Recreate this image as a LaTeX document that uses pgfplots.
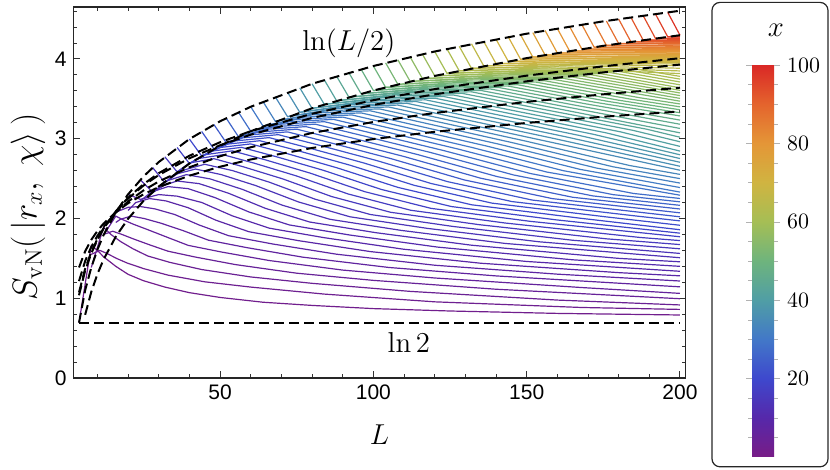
\documentclass[border=0pt]{standalone}
\usepackage[no-math]{fontspec}
\usepackage{pgfplots}
\pgfplotsset{compat=1.18}
\newfontfamily\ticksans{Liberation Sans}

\pgfplotsset{
  colormap={mmrainbow}{rgb255=(120,28,134) rgb255=(86,40,170) rgb255=(62,72,205)
    rgb255=(66,120,200) rgb255=(80,158,165) rgb255=(110,180,125) rgb255=(165,190,85)
    rgb255=(208,180,65) rgb255=(228,150,55) rgb255=(228,100,45) rgb255=(218,40,38)},
  cv/.style={color of colormap={#1 of mmrainbow}, line width=0.6pt},
  dsh/.style={black, line width=1pt, dash pattern=on 5pt off 2.5pt},
}

\begin{document}
\begin{tikzpicture}
\path (0,0) rectangle (415pt,235pt);
\begin{axis}[
  at={(36.75pt,46pt)}, anchor=south west,
  scale only axis, width=306pt, height=185.5pt,
  xmin=2.2, xmax=201.8, ymin=0, ymax=4.652,
  xtick={50,100,150,200},
  minor xtick={10,20,30,40,60,70,80,90,110,120,130,140,160,170,180,190},
  ytick={0,1,2,3,4},
  minor ytick={0.2,0.4,0.6,0.8,1.2,1.4,1.6,1.8,2.2,2.4,2.6,2.8,3.2,3.4,3.6,3.8,4.2,4.4,4.6},
  tick align=inside, major tick length=3.5pt, minor tick length=2pt,
  tick style={black!80, line width=0.5pt},
  axis line style={black!85, line width=0.7pt},
  ticklabel style={font=\ticksans\fontsize{10.5}{12}\selectfont},
  /pgf/number format/assume math mode=true,
  xlabel={$L$}, ylabel={$S_{\mathrm{vN}}\bigl(\,|r_x,\;\chi\rangle\,\bigr)$},
  label style={font=\fontsize{15}{17}\selectfont},
  xlabel style={at={(axis description cs:0.5,0)}, anchor=center, yshift=-28.5pt},
  ylabel style={at={(axis description cs:0,0.461)}, anchor=center, yshift=22.75pt,
    font=\fontsize{17}{19}\selectfont},
  point meta min=0, point meta max=100,
  colormap name=mmrainbow,
  colorbar,
  colorbar style={
    at={(parent axis.north east)}, anchor=north west,
    xshift=24.75pt, yshift=-29pt,
    width=11pt, height=196pt,
    ytick={20,40,60,80,100},
    minor ytick={5,10,15,25,30,35,45,50,55,65,70,75,85,90,95},
    tick align=outside, major tick length=3pt, minor tick length=1.8pt,
    tick style={black!30},
    axis line style={draw=none},
    yticklabel style={font=\ticksans\fontsize{10.5}{12}\selectfont},
  },
]
% curves, x = 2 ... 98 (colour value = 10x)
\addplot[cv=20] coordinates {(4,0.693) (8,1.66) (10,1.60) (12,1.52) (16,1.40) (20,1.30) (25,1.22) (32,1.14) (40,1.07) (50,1.01) (64,0.95) (80,0.91) (100,0.87) (125,0.84) (160,0.81) (200,0.79)};
\addplot[cv=30] coordinates {(8,1.55) (10.8,1.60) (13.2,1.56) (16.2,1.50) (19.8,1.44) (25.2,1.37) (33,1.29) (45,1.206) (60,1.140) (84,1.052) (120,0.955) (168,0.884) (200,0.860)};
\addplot[cv=40] coordinates {(8,1.386) (12,1.89) (14.4,1.80) (17.6,1.71) (21.6,1.62) (26.4,1.53) (33.6,1.45) (44,1.360) (60,1.267) (80,1.187) (112,1.086) (160,0.977) (200,0.916)};
\addplot[cv=50] coordinates {(12,1.80) (15,1.84) (18,1.80) (22,1.74) (27,1.67) (33,1.59) (42,1.516) (55,1.422) (75,1.314) (100,1.224) (140,1.113) (200,0.994)};
\addplot[cv=60] coordinates {(12,1.792) (16,2.03) (18,1.99) (21.6,1.93) (26.4,1.86) (32.4,1.77) (39.6,1.663) (50.4,1.580) (66,1.473) (90,1.353) (120,1.254) (168,1.134) (200,1.061)};
\addplot[cv=70] coordinates {(16,1.95) (17.5,1.99) (21,2.03) (25.2,2.00) (30.8,1.94) (37.8,1.85) (46.2,1.728) (58.8,1.634) (77,1.515) (105,1.386) (140,1.280) (200,1.143)};
\addplot[cv=80] coordinates {(16,2.079) (20,2.14) (24,2.15) (28.8,2.12) (35.2,2.05) (43.2,1.918) (52.8,1.784) (67.2,1.680) (88,1.552) (120,1.414) (160,1.302) (200,1.216)};
\addplot[cv=90] coordinates {(20,2.10) (22.5,2.20) (27,2.25) (32.4,2.22) (39.6,2.135) (48.6,1.979) (59.4,1.834) (75.6,1.722) (99,1.585) (135,1.439) (180,1.321) (200,1.281)};
\addplot[cv=100] coordinates {(20,2.303) (24,2.24) (30,2.30) (36,2.28) (44,2.201) (54,2.033) (66,1.879) (84,1.759) (110,1.614) (150,1.461) (200,1.338)};
\addplot[cv=110] coordinates {(24,2.22) (27.5,2.33) (33,2.40) (39.6,2.374) (48.4,2.261) (59.4,2.082) (72.6,1.919) (92.4,1.792) (121,1.641) (165,1.482) (200,1.400)};
\addplot[cv=120] coordinates {(24,2.485) (28,2.33) (32,2.42) (36,2.47) (43.2,2.437) (52.8,2.316) (64.8,2.127) (79.2,1.956) (100.8,1.822) (132,1.665) (180,1.500) (200,1.457)};
\addplot[cv=130] coordinates {(28,2.32) (32.5,2.47) (39,2.55) (46.8,2.496) (57.2,2.366) (70.2,2.168) (85.8,1.990) (109.2,1.850) (143,1.687) (200,1.508)};
\addplot[cv=140] coordinates {(28,2.639) (32,2.45) (35,2.55) (42,2.62) (50.4,2.55) (61.6,2.413) (75.6,2.207) (92.4,2.021) (117.6,1.876) (154,1.708) (200,1.562)};
\addplot[cv=150] coordinates {(32,2.45) (37.5,2.60) (45,2.68) (54,2.601) (66,2.456) (81,2.242) (99,2.050) (126,1.900) (165,1.727) (200,1.620)};
\addplot[cv=160] coordinates {(32,2.773) (36,2.584) (40,2.696) (48,2.750) (57.6,2.648) (70.4,2.497) (86.4,2.275) (105.6,2.078) (134.4,1.923) (176,1.745) (200,1.673)};
\addplot[cv=170] coordinates {(36,2.584) (42.5,2.749) (51,2.800) (61.2,2.693) (74.8,2.535) (91.8,2.307) (112.2,2.103) (142.8,1.944) (187,1.762) (200,1.723)};
\addplot[cv=180] coordinates {(36,2.890) (40,2.689) (45,2.799) (54,2.848) (64.8,2.735) (79.2,2.571) (97.2,2.336) (118.8,2.127) (151.2,1.964) (200,1.771)};
\addplot[cv=190] coordinates {(40,2.689) (47.5,2.846) (57,2.892) (68.4,2.774) (83.6,2.605) (102.6,2.364) (125.4,2.150) (159.6,1.983) (200,1.816)};
\addplot[cv=200] coordinates {(40,2.996) (44,2.784) (50,2.890) (60,2.935) (72,2.812) (88,2.637) (108,2.390) (132,2.172) (168,2.001) (200,1.859)};
\addplot[cv=210] coordinates {(44,2.784) (52.5,2.933) (63,2.975) (75.6,2.848) (92.4,2.668) (113.4,2.415) (138.6,2.193) (176.4,2.018) (200,1.915)};
\addplot[cv=220] coordinates {(44,3.091) (48,2.871) (55,2.973) (66,3.014) (79.2,2.882) (96.8,2.697) (118.8,2.439) (145.2,2.212) (184.8,2.035) (200,1.970)};
\addplot[cv=230] coordinates {(48,2.871) (57.5,3.012) (69,3.051) (82.8,2.914) (101.2,2.725) (124.2,2.462) (151.8,2.231) (200,2.021)};
\addplot[cv=240] coordinates {(48,3.178) (52,2.951) (60,3.049) (72,3.086) (86.4,2.945) (105.6,2.752) (129.6,2.484) (158.4,2.249) (200,2.071)};
\addplot[cv=250] coordinates {(52,2.951) (62.5,3.084) (75,3.120) (90,2.975) (110,2.777) (135,2.505) (165,2.266) (200,2.119)};
\addplot[cv=260] coordinates {(52,3.258) (56,3.025) (65,3.118) (78,3.152) (93.6,3.004) (114.4,2.802) (140.4,2.525) (171.6,2.283) (200,2.165)};
\addplot[cv=270] coordinates {(56,3.025) (67.5,3.151) (81,3.183) (97.2,3.032) (118.8,2.826) (145.8,2.545) (178.2,2.299) (200,2.209)};
\addplot[cv=280] coordinates {(56,3.332) (60,3.094) (70,3.183) (84,3.214) (100.8,3.058) (123.2,2.849) (151.2,2.564) (184.8,2.314) (200,2.251)};
\addplot[cv=290] coordinates {(60,3.094) (72.5,3.213) (87,3.243) (104.4,3.084) (127.6,2.871) (156.6,2.582) (200,2.292)};
\addplot[cv=300] coordinates {(60,3.401) (64,3.159) (75,3.243) (90,3.271) (108,3.109) (132,2.892) (162,2.599) (200,2.331)};
\addplot[cv=310] coordinates {(64,3.159) (77.5,3.271) (93,3.298) (111.6,3.133) (136.4,2.913) (167.4,2.616) (200,2.388)};
\addplot[cv=320] coordinates {(64,3.466) (68,3.220) (80,3.299) (96,3.324) (115.2,3.156) (140.8,2.933) (172.8,2.632) (200,2.444)};
\addplot[cv=330] coordinates {(68,3.220) (82.5,3.326) (99,3.350) (118.8,3.179) (145.2,2.952) (178.2,2.648) (200,2.500)};
\addplot[cv=340] coordinates {(68,3.526) (72,3.277) (85,3.352) (102,3.374) (122.4,3.201) (149.6,2.971) (183.6,2.664) (200,2.553)};
\addplot[cv=350] coordinates {(72,3.277) (87.5,3.377) (105,3.398) (126,3.222) (154,2.989) (200,2.605)};
\addplot[cv=360] coordinates {(72,3.584) (76,3.331) (90,3.402) (108,3.422) (129.6,3.243) (158.4,3.007) (200,2.655)};
\addplot[cv=370] coordinates {(76,3.331) (92.5,3.426) (111,3.444) (133.2,3.263) (162.8,3.024) (200,2.705)};
\addplot[cv=380] coordinates {(76,3.638) (80,3.382) (95,3.449) (114,3.466) (136.8,3.282) (167.2,3.041) (200,2.752)};
\addplot[cv=390] coordinates {(80,3.382) (97.5,3.471) (117,3.488) (140.4,3.301) (171.6,3.057) (200,2.799)};
\addplot[cv=400] coordinates {(80,3.689) (84,3.431) (100,3.493) (120,3.509) (144,3.320) (176,3.073) (200,2.845)};
\addplot[cv=410] coordinates {(84,3.431) (102.5,3.515) (123,3.529) (147.6,3.338) (180.4,3.088) (200,2.904)};
\addplot[cv=420] coordinates {(84,3.738) (88,3.477) (105,3.536) (126,3.549) (151.2,3.356) (184.8,3.104) (200,2.962)};
\addplot[cv=430] coordinates {(88,3.477) (107.5,3.556) (129,3.569) (154.8,3.373) (189.2,3.119) (200,3.019)};
\addplot[cv=440] coordinates {(88,3.784) (92,3.522) (110,3.576) (132,3.588) (158.4,3.390) (200,3.074)};
\addplot[cv=450] coordinates {(92,3.522) (112.5,3.596) (135,3.606) (162,3.406) (200,3.129)};
\addplot[cv=460] coordinates {(92,3.829) (96,3.564) (115,3.615) (138,3.625) (165.6,3.422) (200,3.182)};
\addplot[cv=470] coordinates {(96,3.564) (117.5,3.634) (141,3.642) (169.2,3.438) (200,3.234)};
\addplot[cv=480] coordinates {(96,3.871) (100,3.605) (120,3.652) (144,3.660) (172.8,3.454) (200,3.286)};
\addplot[cv=490] coordinates {(100,3.605) (122.5,3.670) (147,3.677) (176.4,3.469) (200,3.326)};
\addplot[cv=500] coordinates {(100,3.912) (104,3.644) (125,3.687) (150,3.694) (180,3.483) (200,3.363)};
\addplot[cv=510] coordinates {(104,3.644) (127.5,3.705) (153,3.710) (183.6,3.498) (200,3.400)};
\addplot[cv=520] coordinates {(104,3.951) (108,3.682) (130,3.722) (156,3.726) (187.2,3.512) (200,3.436)};
\addplot[cv=530] coordinates {(108,3.682) (132.5,3.738) (159,3.742) (200,3.471)};
\addplot[cv=540] coordinates {(108,3.989) (112,3.719) (135,3.754) (162,3.757) (200,3.506)};
\addplot[cv=550] coordinates {(112,3.719) (137.5,3.770) (165,3.773) (200,3.541)};
\addplot[cv=560] coordinates {(112,4.025) (116,3.754) (140,3.786) (168,3.787) (200,3.574)};
\addplot[cv=570] coordinates {(116,3.754) (142.5,3.801) (171,3.802) (200,3.607)};
\addplot[cv=580] coordinates {(116,4.060) (120,3.788) (145,3.817) (174,3.816) (200,3.639)};
\addplot[cv=590] coordinates {(120,3.788) (147.5,3.831) (177,3.831) (200,3.676)};
\addplot[cv=600] coordinates {(120,4.094) (124,3.820) (150,3.846) (180,3.845) (200,3.712)};
\addplot[cv=610] coordinates {(124,3.820) (152.5,3.860) (183,3.858) (200,3.748)};
\addplot[cv=620] coordinates {(124,4.127) (128,3.852) (155,3.875) (186,3.872) (200,3.782)};
\addplot[cv=630] coordinates {(128,3.852) (157.5,3.889) (200,3.817)};
\addplot[cv=640] coordinates {(128,4.159) (132,3.883) (160,3.902) (200,3.850)};
\addplot[cv=650] coordinates {(132,3.883) (162.5,3.916) (200,3.884)};
\addplot[cv=660] coordinates {(132,4.190) (136,3.913) (165,3.929) (200,3.917)};
\addplot[cv=670] coordinates {(136,3.913) (167.5,3.942) (200,3.938)};
\addplot[cv=680] coordinates {(136,4.220) (140,3.942) (170,3.955) (200,3.953)};
\addplot[cv=690] coordinates {(140,3.942) (172.5,3.968) (200,3.968)};
\addplot[cv=700] coordinates {(140,4.248) (144,3.970) (175,3.980) (200,3.983)};
\addplot[cv=710] coordinates {(144,3.970) (177.5,3.992) (200,3.998)};
\addplot[cv=720] coordinates {(144,4.277) (148,3.997) (180,4.005) (200,4.012)};
\addplot[cv=730] coordinates {(148,3.997) (182.5,4.017) (200,4.023)};
\addplot[cv=740] coordinates {(148,4.304) (152,4.024) (185,4.028) (200,4.034)};
\addplot[cv=750] coordinates {(152,4.024) (200,4.045)};
\addplot[cv=760] coordinates {(152,4.331) (156,4.050) (200,4.055)};
\addplot[cv=770] coordinates {(156,4.050) (200,4.066)};
\addplot[cv=780] coordinates {(156,4.357) (160,4.075) (200,4.076)};
\addplot[cv=790] coordinates {(160,4.075) (200,4.087)};
\addplot[cv=800] coordinates {(160,4.382) (164,4.100) (200,4.097)};
\addplot[cv=810] coordinates {(164,4.100) (200,4.107)};
\addplot[cv=820] coordinates {(164,4.407) (168,4.124) (200,4.118)};
\addplot[cv=830] coordinates {(168,4.124) (200,4.129)};
\addplot[cv=840] coordinates {(168,4.431) (172,4.148) (200,4.141)};
\addplot[cv=850] coordinates {(172,4.148) (200,4.153)};
\addplot[cv=860] coordinates {(172,4.454) (176,4.171) (200,4.164)};
\addplot[cv=870] coordinates {(176,4.171) (200,4.175)};
\addplot[cv=880] coordinates {(176,4.477) (180,4.193) (200,4.187)};
\addplot[cv=890] coordinates {(180,4.193) (200,4.198)};
\addplot[cv=900] coordinates {(180,4.500) (184,4.215) (200,4.209)};
\addplot[cv=910] coordinates {(184,4.215) (200,4.220)};
\addplot[cv=920] coordinates {(184,4.522) (188,4.236) (200,4.231)};
\addplot[cv=930] coordinates {(188,4.236) (200,4.242)};
\addplot[cv=940] coordinates {(188,4.543) (192,4.258) (200,4.253)};
\addplot[cv=950] coordinates {(192,4.258) (200,4.264)};
\addplot[cv=960] coordinates {(192,4.564) (196,4.278) (200,4.275)};
\addplot[cv=970] coordinates {(196,4.278) (200,4.285)};
\addplot[cv=980] coordinates {(196,4.585) (200,4.298)};
% dashed guides
\addplot[dsh] coordinates {(4,0.693) (6,1.099) (8,1.386) (10,1.609) (12,1.792) (16,2.079) (20,2.303) (25,2.526) (30,2.708) (40,2.996) (50,3.219) (60,3.401) (80,3.689) (100,3.912) (120,4.094) (150,4.317) (175,4.472) (200,4.605)};
\addplot[dsh] coordinates {(6,0.792) (8,1.079) (10,1.303) (12,1.485) (16,1.773) (20,1.996) (25,2.219) (30,2.401) (40,2.689) (50,2.912) (60,3.094) (80,3.382) (100,3.605) (120,3.788) (150,4.011) (175,4.165) (200,4.298)};
\addplot[dsh] coordinates {(4,1.037) (6,1.345) (8,1.563) (10,1.733) (12,1.872) (16,2.090) (20,2.260) (25,2.429) (30,2.568) (40,2.787) (50,2.956) (60,3.095) (80,3.313) (100,3.483) (120,3.622) (150,3.791) (175,3.908) (200,4.010)};
\addplot[dsh] coordinates {(4,1.074) (6,1.370) (8,1.580) (10,1.743) (12,1.876) (16,2.086) (20,2.249) (25,2.412) (30,2.545) (40,2.755) (50,2.918) (60,3.051) (80,3.261) (100,3.424) (120,3.557) (150,3.720) (175,3.832) (200,3.930)};
\addplot[dsh] coordinates {(4,1.215) (6,1.466) (8,1.644) (10,1.783) (12,1.896) (16,2.074) (20,2.212) (25,2.351) (30,2.464) (40,2.642) (50,2.780) (60,2.893) (80,3.072) (100,3.210) (120,3.323) (150,3.462) (175,3.557) (200,3.640)};
\addplot[dsh] coordinates {(4,1.386) (6,1.589) (8,1.733) (10,1.844) (12,1.936) (16,2.079) (20,2.191) (25,2.302) (30,2.394) (40,2.537) (50,2.649) (60,2.740) (80,2.884) (100,2.996) (120,3.087) (150,3.198) (175,3.276) (200,3.342)};
\addplot[dsh] coordinates {(4,0.693) (200,0.693)};
\node[font=\fontsize{15}{17}\selectfont] at (axis cs:92,4.2) {$\ln(L/2)$};
\node[font=\fontsize{15}{17}\selectfont] at (axis cs:111.6,0.44) {$\ln 2$};
\end{axis}
\draw[black!85, line width=0.6pt, rounded corners=4pt] (356pt,1.6pt) rectangle (414pt,233.8pt);
\node[font=\fontsize{15}{17}\selectfont] at (388pt,220pt) {$x$};
\end{tikzpicture}
\end{document}
